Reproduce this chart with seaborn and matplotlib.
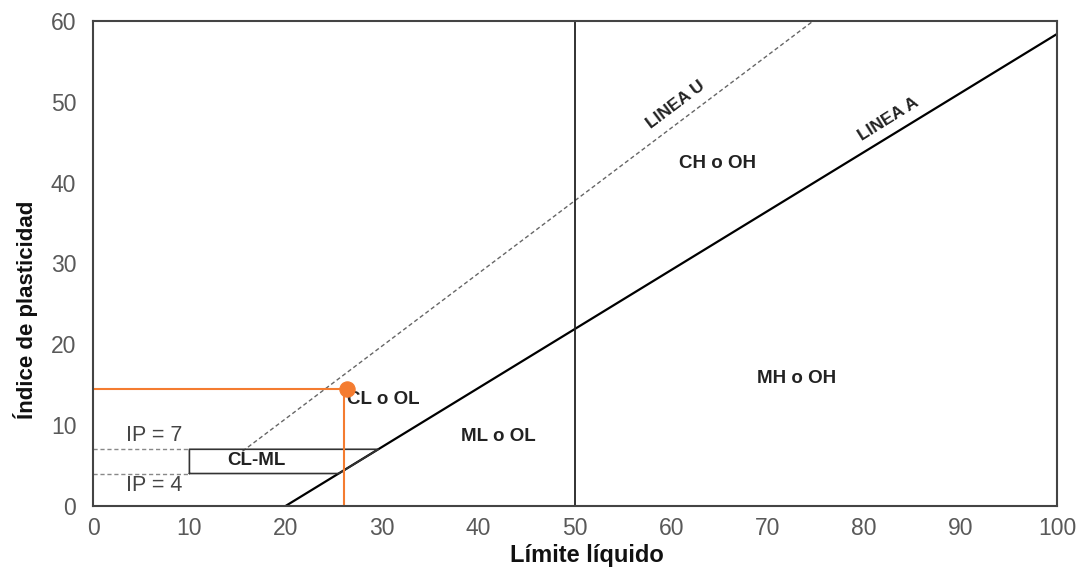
import numpy as np
import pandas as pd
import matplotlib
matplotlib.use('Agg')
import matplotlib.pyplot as plt
import seaborn as sns

# datos de la carta de plasticidad
linea_a_ll = [20, 100]
linea_a_ip = [0, 58.4]
linea_u_ll = [15.5, 74.7]
linea_u_ip = [6.75, 60]
clml_ll = [10, 10, 29.6, 25.5, 10]
clml_ip = [4, 7, 7, 4, 4]
ip_lim_ll = [0, 10]
ip_7 = [7, 7]
ip_4 = [4, 4]
muestra_ll = [26.3]
muestra_ip = [14.4]

sns.set_style('white')
plt.rcParams['font.family'] = ['Liberation Sans', 'DejaVu Sans']

fig = plt.figure(figsize=(10.79, 5.69), dpi=100)
ax = fig.add_axes([0.0862, 0.111, 0.8934, 0.852])

gris = '#595959'
# linea A
sns.lineplot(x=linea_a_ll, y=linea_a_ip, ax=ax, color='black', linewidth=1.6)
# linea U
sns.lineplot(x=linea_u_ll, y=linea_u_ip, ax=ax, color='#666666', linewidth=1.0, linestyle=(0, (3, 2)))
# LL = 50
ax.axvline(50, color='#222222', linewidth=1.3)
# zona CL-ML
ax.plot(clml_ll, clml_ip, color='#333333', linewidth=1.2)
ax.plot(ip_lim_ll, ip_7, color='#888888', linewidth=1.0, linestyle=(0, (3, 2)))
ax.plot(ip_lim_ll, ip_4, color='#888888', linewidth=1.0, linestyle=(0, (3, 2)))

# muestra
naranja = '#f47c30'
ax.plot([0, muestra_ll[0] - 0.3], [muestra_ip[0], muestra_ip[0]], color=naranja, linewidth=1.5)
ax.plot([muestra_ll[0] - 0.3, muestra_ll[0] - 0.3], [0, muestra_ip[0]], color=naranja, linewidth=1.5)
sns.scatterplot(x=muestra_ll, y=muestra_ip, ax=ax, color=naranja, s=120, edgecolor=naranja, zorder=5)

# textos
fb = dict(fontsize=13.5, fontweight='bold', color='#222222', ha='center', va='center')
fl = dict(fontsize=12.5, fontweight='bold', color='#222222', ha='center', va='center')
ax.text(60.4, 49.6, 'LINEA U', rotation=37, **fl)
ax.text(82.5, 47.8, 'LINEA A', rotation=32, **fl)
ax.text(64.8, 42.4, 'CH o OH', **fb)
ax.text(73.0, 15.7, 'MH o OH', **fb)
ax.text(42.0, 8.6, 'ML o OL', **fb)
ax.text(30.1, 13.1, 'CL o OL', **fb)
ax.text(17.0, 5.6, 'CL-ML', **fb)
ax.text(6.3, 8.7, 'IP = 7', fontsize=15.5, color='#444444', ha='center', va='center')
ax.text(6.3, 2.5, 'IP = 4', fontsize=15.5, color='#444444', ha='center', va='center')

ax.set_xlim(0, 100)
ax.set_ylim(0, 60)
ax.set_xticks(range(0, 101, 10))
ax.set_yticks(range(0, 61, 10))
ax.tick_params(axis='both', labelsize=16.5, labelcolor=gris, length=0, pad=8)
ax.tick_params(axis='y', pad=12)
for s in ax.spines.values():
    s.set_color('#444444')
    s.set_linewidth(1.5)

ax.set_xlabel('Límite líquido', fontsize=17, fontweight='bold', color='#111111')
ax.set_ylabel('Índice de plasticidad', fontsize=16, fontweight='bold', color='#111111')
ax.xaxis.set_label_coords(0.512, -0.078)
ax.yaxis.set_label_coords(-0.057, 0.404)

fig.savefig('out.png', dpi=100)
